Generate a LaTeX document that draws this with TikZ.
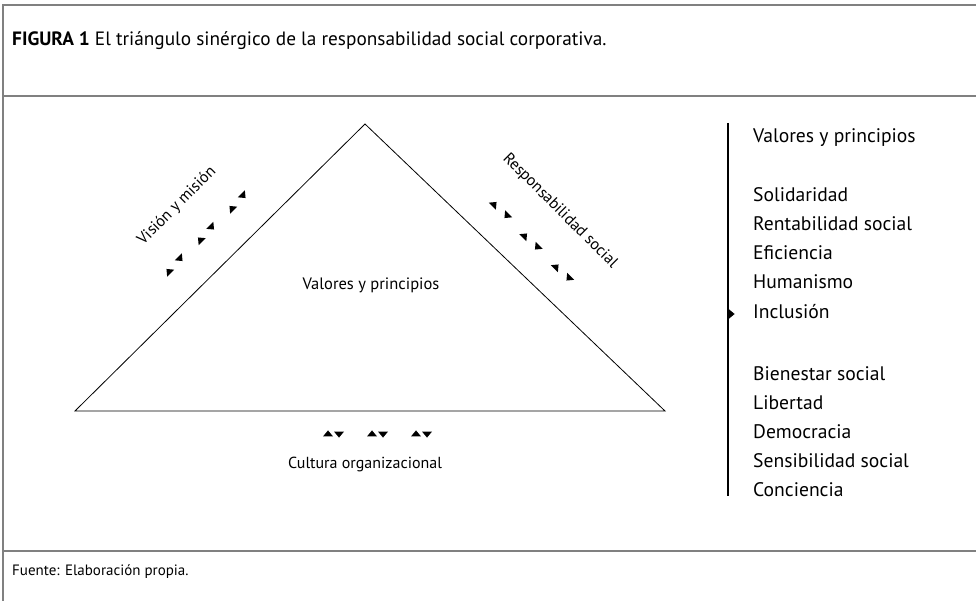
\documentclass[tikz,border=0pt]{standalone}
\usepackage{fontspec}
\setmainfont{PT Sans}
\usepackage{tikz}
\usetikzlibrary{calc}
\definecolor{rule}{HTML}{808080}
\tikzset{
  frame/.style={draw=rule, line width=2pt},
  edge/.style={draw=black, line width=0.8pt, line join=miter},
  bar/.style={draw=black, line width=2.6pt},
  lab/.style={inner sep=0pt, font=\fontsize{16}{18}\selectfont},
  item/.style={inner sep=0pt, anchor=base west, font=\fontsize{19.6}{22}\selectfont},
  title/.style={inner sep=0pt, anchor=base west, font=\fontsize{19.3}{22}\selectfont},
  note/.style={inner sep=0pt, anchor=base west, font=\fontsize{15}{17}\selectfont},
  wedge/.pic={\fill (3.6,0) -- (-2.4,5) -- (-2.4,-5) -- cycle;},
}

\begin{document}
\begin{tikzpicture}[x=1pt,y=-1pt]
  \useasboundingbox (0,0) rectangle (976,601);
  % frame
  \coordinate (FT) at (2.5,5);
  \coordinate (FB) at (2.5,601);
  \coordinate (FR) at (976,5);
  \draw[frame] (FB) -- (FT) -- (FR);
  \draw[frame] (2.5,96) -- (976,96);
  \draw[frame] (2.5,551) -- (976,551);
  \node[title] (head) at (12,46) {\textbf{FIGURA 1} El triángulo sinérgico de la responsabilidad social corporativa.};
  \node[note] (src) at (12,575) {Fuente: Elaboración propia.};
  % triangle
  \coordinate (A) at (365,124);
  \coordinate (B) at (75,411);
  \coordinate (C) at (665,411);
  \draw[edge] (A) -- (B) -- (C) -- cycle;
  \node[lab,anchor=base,font=\fontsize{16.5}{18}\selectfont] (core) at (371,290) {Valores y principios};
  \node[lab,rotate=45] (vis) at (177,206) {Visión y misión};
  \node[lab,rotate=-45] (resp) at (560,211) {Responsabilidad social};
  \node[lab,anchor=base] (cult) at (365,468) {Cultura organizacional};
  % arrow marks
  \foreach \x/\y in {237.5/202, 206/233.5, 174.5/265} {
    \pic[rotate=-45] at (\x+5.5,\y-6.5) {wedge};
    \pic[rotate=135] at (\x-5.5,\y+6.5) {wedge};
  }
  \foreach \x/\y in {500.5/210, 531/241.5, 562.5/272.5} {
    \pic[rotate=45] at (\x-6.5,\y-5.5) {wedge};
    \pic[rotate=225] at (\x+6.5,\y+5.5) {wedge};
  }
  \foreach \x in {333.5, 377.5, 421.5} {
    \pic[rotate=90] at (\x-5.5,434) {wedge};
    \pic[rotate=270] at (\x+5.5,434) {wedge};
  }
  % value list
  \coordinate (T) at (728,123);
  \coordinate (U) at (728,496);
  \draw[bar] (T) -- (U);
  \pic at (731,314) {wedge};
  \node[item] (v0) at (753,143) {Valores y principios};
  \node[item] (v1) at (753,202) {Solidaridad};
  \node[item] (v2) at (753,231) {Rentabilidad social};
  \node[item] (v3) at (753,260) {Eficiencia};
  \node[item] (v4) at (753,289) {Humanismo};
  \node[item] (v5) at (753,318) {Inclusión};
  \node[item] (v6) at (753,380) {Bienestar social};
  \node[item] (v7) at (753,409) {Libertad};
  \node[item] (v8) at (753,438) {Democracia};
  \node[item] (v9) at (753,467) {Sensibilidad social};
  \node[item] (v10) at (753,496) {Conciencia};
\end{tikzpicture}
\end{document}
